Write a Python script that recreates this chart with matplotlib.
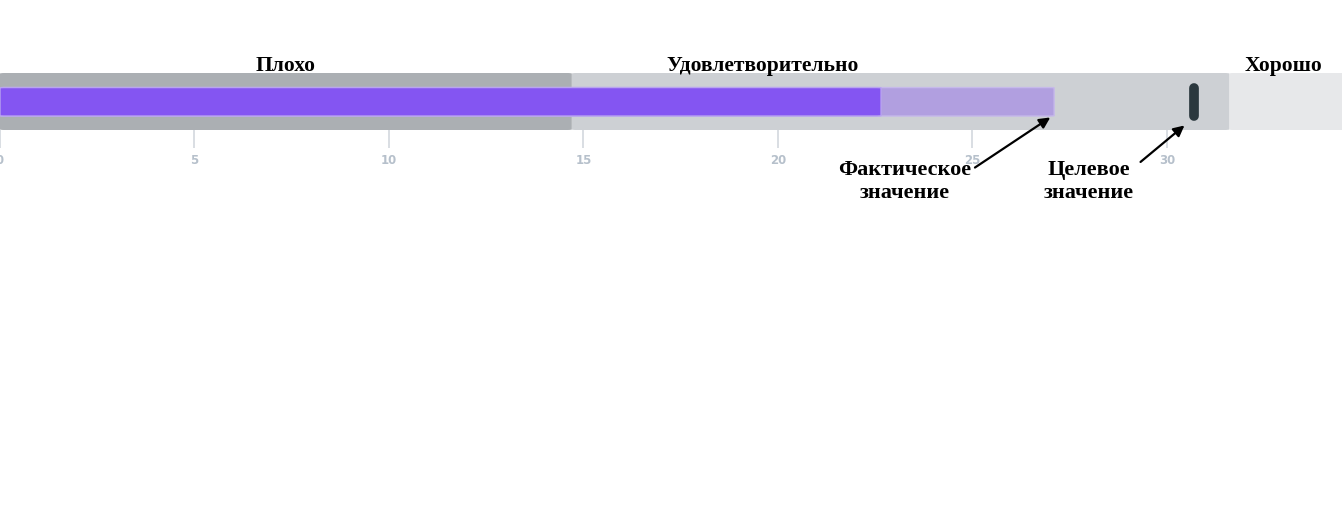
import matplotlib.pyplot as plt
from matplotlib.patches import FancyBboxPatch

# data
band_names = ["Плохо", "Удовлетворительно", "Хорошо"]
band_edges = [0, 14.7, 31.6, 34.6]
band_colors = ["#abafb3", "#cdd0d4", "#e7e8ea"]
actual = 22.65
forecast = 27.1
target = 30.7
ticks = [0, 5, 10, 15, 20, 25, 30]

W, H = 1342, 509
fig = plt.figure(figsize=(W / 100, H / 100), dpi=100)
# axes placed over the bar strip (pixel 73..130 from the top)
ax = fig.add_axes([0, 1 - 130 / H, 1, 57 / H])
ax.set_xlim(0, 34.5)
ax.set_ylim(0, 1)

# qualitative ranges
for i in range(len(band_names)):
    x0, x1 = band_edges[i], band_edges[i + 1]
    ax.add_patch(FancyBboxPatch((x0, 0), x1 - x0, 1,
                                boxstyle="round,pad=0,rounding_size=0.12",
                                mutation_aspect=1 / 12,
                                fc=band_colors[i], ec="none", zorder=1 + (2 - i) * 0.1))

# forecast and actual bars
ax.add_patch(FancyBboxPatch((0, 0.245), forecast, 0.5,
                            boxstyle="round,pad=0,rounding_size=0.1",
                            mutation_aspect=1 / 12,
                            fc="#b19fe0", ec="#c6b9ea", lw=1, zorder=3))
ax.add_patch(FancyBboxPatch((0, 0.245), actual, 0.5,
                            boxstyle="round,pad=0,rounding_size=0.1",
                            mutation_aspect=1 / 12,
                            fc="#8455f2", ec="#b9a4f0", lw=1, zorder=4))

# target marker
ax.plot([target, target], [0.24, 0.74], color="#2b383e", lw=7,
        solid_capstyle="round", zorder=5)

# band labels
label_x = [7.35, 19.6, 33.0]
for name, lx in zip(band_names, label_x):
    ax.text(lx, 0.95, name, ha="center", va="bottom", fontsize=15.5,
            fontweight="bold", family="Liberation Serif", color="black")

ax.set_xticks(ticks)
ax.set_xticklabels([str(t) for t in ticks])
ax.tick_params(axis="x", length=13, width=1.2, color="#d3d8de", pad=4,
               labelsize=8.5, labelcolor="#b6c0cb", direction="out")
for lab in ax.get_xticklabels():
    lab.set_fontweight("bold")
ax.set_yticks([])
for s in ax.spines.values():
    s.set_visible(False)

# annotations
ax.annotate("Фактическое\nзначение", xy=(27.0, 0.22), xytext=(23.25, -0.9),
            ha="center", va="center", fontsize=16, fontweight="bold",
            family="Liberation Serif", annotation_clip=False, linespacing=1.2,
            arrowprops=dict(arrowstyle="-|>", color="black", lw=1.6,
                            shrinkA=0, shrinkB=0, mutation_scale=16,
                            relpos=(1.03, 0.82)))
ax.annotate("Целевое\nзначение", xy=(30.45, 0.08), xytext=(28.0, -0.9),
            ha="center", va="center", fontsize=16, fontweight="bold",
            family="Liberation Serif", annotation_clip=False, linespacing=1.2,
            arrowprops=dict(arrowstyle="-|>", color="black", lw=1.6,
                            shrinkA=0, shrinkB=0, mutation_scale=16,
                            relpos=(1.07, 0.95)))

fig.savefig("out.png", dpi=100)
